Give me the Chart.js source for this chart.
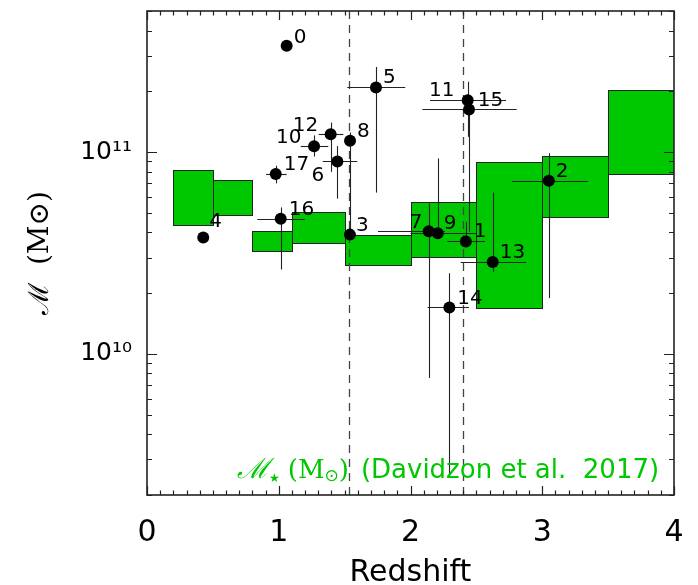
<!DOCTYPE html>
<html><head><meta charset="utf-8">
<script src="https://cdn.jsdelivr.net/npm/chart.js@4.4.0/dist/chart.umd.min.js"></script>
<style>html,body{margin:0;padding:0;background:#fff;}#wrap{width:698px;height:585px;}</style>
</head><body><div id="wrap"><canvas id="c" width="698" height="585"></canvas></div>
<script>
// ---- data ----
const pointIds   = ['0','1','2','3','4','5','6','7','8','9','10','11','12','13','14','15','16','17'];
const redshift   = [1.06, 2.42, 3.05, 1.54, 0.427, 1.738, 1.445, 2.138, 1.541, 2.207, 1.268, 2.444, 1.394, 2.624, 2.295, 2.434, 1.015, 0.977];
const mass       = [3.36e11, 3.61e10, 7.21e10, 3.90e10, 3.77e10, 2.09e11, 8.99e10, 4.05e10, 1.138e11, 3.96e10, 1.07e11, 1.627e11, 1.224e11, 2.85e10, 1.70e10, 1.808e11, 4.68e10, 7.78e10];
const redshiftLo = [1.02, 2.28, 2.77, null, null, 1.52, 1.334, 1.753, null, 2.0, 1.167, 2.09, 1.303, 2.381, 2.13, 2.148, 0.837, 0.904];
const redshiftHi = [1.10, 2.565, 3.345, null, null, 1.96, 1.596, 2.26, null, 2.5, 1.376, 2.806, 1.49, 2.877, 2.444, 2.725, 1.197, 1.06];
const massLo     = [null, 3.4e10, 1.89e10, null, null, 6.3e10, 5.88e10, 7.6e9, 3.9e10, null, 9.5e10, 4.03e10, 7.98e10, 2.55e10, 2.47e9, 1.19e11, 2.62e10, 7.0e10];
const massHi     = [null, 4.52e10, 9.86e10, null, null, 2.64e11, 1.07e11, 5.57e10, 1.25e11, 9.3e10, 1.21e11, null, 1.40e11, 6.3e10, 2.51e10, 2.23e11, 5.32e10, 8.56e10];

// Davidzon et al. 2017 stellar mass bins
const binZLo    = [0.2, 0.5, 0.8, 1.1, 1.5, 2.0, 2.5, 3.0, 3.5];
const binZHi    = [0.5, 0.8, 1.1, 1.5, 2.0, 2.5, 3.0, 3.5, 4.0];
const binMassLo = [4.35e10, 4.9e10, 3.22e10, 3.53e10, 2.75e10, 3.01e10, 1.69e10, 4.76e10, 7.78e10];
const binMassHi = [8.11e10, 7.24e10, 4.06e10, 5.02e10, 3.88e10, 5.64e10, 8.9e10, 9.55e10, 2.04e11];

const dashedZ = [1.536, 2.396];

const xMajorTicks = [0, 1, 2, 3, 4];
const xTickLabels = ['0', '1', '2', '3', '4'];
const yMajorTicks = [1e10, 1e11];
const yTickLabels = ['10\u00B9\u2070', '10\u00B9\u00B9'];

// label offsets (px) for point ids
const labelDx = [7, 8, 7, 6, 6, 7, -26, -19, 7, 6, -38, -40, -38, 7, 8, 10, 8, 8];
const labelDy = [-3, -4, -4, -4, -11, -4, 20, -3, -4, -4, -3, -13, -3, -4, -3, 6, -4, -4];

const noteZ = 0.683, noteMass = 2.43e9;
const GREEN = 'rgb(0,200,0)';

// minor tick values
const xTickValues = [];
for (let i = 0; i <= 40; i++) xTickValues.push(i / 10);
const yTickValues = [];
for (let e = 9; e <= 11; e++) for (let m = 1; m <= 9; m++) {
  const v = m * Math.pow(10, e);
  if (v >= 2e9 - 1 && v <= 5e11 + 1) yTickValues.push(v);
}

const drawPlugin = {
  id: 'drawPlugin',
  beforeDatasetsDraw(chart) {
    const {ctx, chartArea: a, scales: {x, y}} = chart;
    ctx.save();
    ctx.beginPath(); ctx.rect(a.left, a.top, a.right - a.left, a.bottom - a.top); ctx.clip();
    // boxes
    for (let i = 0; i < binZLo.length; i++) {
      const x0 = Math.round(x.getPixelForValue(binZLo[i])) + 0.5;
      const x1 = Math.round(x.getPixelForValue(binZHi[i])) + 0.5;
      const y0 = Math.round(y.getPixelForValue(binMassHi[i])) + 0.5;
      const y1 = Math.round(y.getPixelForValue(binMassLo[i])) + 0.5;
      ctx.fillStyle = GREEN;
      ctx.fillRect(x0, y0, x1 - x0, y1 - y0);
      ctx.strokeStyle = '#222'; ctx.lineWidth = 1;
      ctx.strokeRect(x0, y0, x1 - x0, y1 - y0);
    }
    // dashed lines
    ctx.strokeStyle = '#444'; ctx.lineWidth = 1.3; ctx.setLineDash([8, 6]);
    dashedZ.forEach(z => {
      const px = Math.round(x.getPixelForValue(z)) + 0.5;
      ctx.beginPath(); ctx.moveTo(px, a.top); ctx.lineTo(px, a.bottom); ctx.stroke();
    });
    ctx.setLineDash([]);
    // error bars
    ctx.strokeStyle = '#222'; ctx.lineWidth = 1.1;
    for (let i = 0; i < redshift.length; i++) {
      const px = x.getPixelForValue(redshift[i]);
      const py = y.getPixelForValue(mass[i]);
      if (redshiftLo[i] != null || redshiftHi[i] != null) {
        const xa = x.getPixelForValue(redshiftLo[i] ?? redshift[i]);
        const xb = x.getPixelForValue(redshiftHi[i] ?? redshift[i]);
        ctx.beginPath(); ctx.moveTo(xa, Math.round(py) + 0.5); ctx.lineTo(xb, Math.round(py) + 0.5); ctx.stroke();
      }
      if (massLo[i] != null || massHi[i] != null) {
        const ya = y.getPixelForValue(massLo[i] ?? mass[i]);
        const yb = y.getPixelForValue(massHi[i] ?? mass[i]);
        ctx.beginPath(); ctx.moveTo(Math.round(px) + 0.5, ya); ctx.lineTo(Math.round(px) + 0.5, yb); ctx.stroke();
      }
    }
    ctx.restore();
  },
  afterDatasetsDraw(chart) {
    const {ctx, chartArea: a, scales: {x, y}} = chart;
    ctx.save();
    // point labels
    ctx.fillStyle = '#000';
    ctx.font = '20px "DejaVu Sans"';
    ctx.textAlign = 'left'; ctx.textBaseline = 'alphabetic';
    for (let i = 0; i < redshift.length; i++) {
      const px = x.getPixelForValue(redshift[i]);
      const py = y.getPixelForValue(mass[i]);
      ctx.fillText(pointIds[i], px + labelDx[i], py + labelDy[i]);
    }
    // green annotation
    let nx = x.getPixelForValue(noteZ);
    const ny = y.getPixelForValue(noteMass);
    ctx.fillStyle = GREEN;
    ctx.font = 'italic 28px "DejaVu Serif"';
    ctx.fillText('\u2133', nx, ny);
    nx += ctx.measureText('\u2133').width;
    ctx.font = '12px "DejaVu Sans"';
    ctx.fillText('\u2605', nx, ny + 4);
    nx += ctx.measureText('\u2605').width + 8;
    ctx.font = '26px "DejaVu Serif"';
    ctx.fillText('(M', nx, ny);
    nx += ctx.measureText('(M').width;
    ctx.font = '17px "DejaVu Sans"';
    ctx.fillText('\u2299', nx, ny + 3);
    nx += ctx.measureText('\u2299').width;
    ctx.font = '26px "DejaVu Serif"';
    ctx.fillText(')', nx, ny);
    nx += ctx.measureText(')').width + 12;
    ctx.font = '26px "DejaVu Sans"';
    ctx.fillText('(Davidzon et al.  2017)', nx, ny);
    // frame
    ctx.strokeStyle = '#222'; ctx.lineWidth = 1.6;
    ctx.strokeRect(a.left, a.top, a.right - a.left, a.bottom - a.top);
    // tick marks
    ctx.lineWidth = 1.2;
    ctx.beginPath();
    xTickValues.forEach(v => {
      const px = Math.round(x.getPixelForValue(v)) + 0.5;
      const len = xMajorTicks.includes(v) ? 9 : 4.5;
      ctx.moveTo(px, a.bottom); ctx.lineTo(px, a.bottom - len);
      ctx.moveTo(px, a.top); ctx.lineTo(px, a.top + len);
    });
    yTickValues.forEach(v => {
      const py = Math.round(y.getPixelForValue(v)) + 0.5;
      const len = yMajorTicks.some(m => Math.abs(m - v) / m < 1e-6) ? 10 : 5;
      ctx.moveTo(a.left, py); ctx.lineTo(a.left + len, py);
      ctx.moveTo(a.right, py); ctx.lineTo(a.right - len, py);
    });
    ctx.stroke();
    ctx.restore();
  }
};

new Chart(document.getElementById('c').getContext('2d'), {
  type: 'scatter',
  data: {
    datasets: [{
      data: redshift.map((z, i) => ({x: z, y: mass[i]})),
      pointRadius: 6, pointHoverRadius: 6,
      backgroundColor: '#000', borderWidth: 0
    }]
  },
  options: {
    responsive: false, animation: false, events: [],
    layout: {padding: {top: 11, right: 24, left: 0, bottom: 0}},
    plugins: {legend: {display: false}, tooltip: {enabled: false}},
    scales: {
      x: {
        type: 'linear', min: 0, max: 4,
        grid: {display: false, drawTicks: false}, border: {display: false},
        afterBuildTicks: s => { s.ticks = xTickValues.map(v => ({value: v})); },
        afterFit: s => { s.height = 90; s.paddingLeft = 0; s.paddingRight = 0; },
        ticks: {
          autoSkip: false, maxRotation: 0, minRotation: 0, padding: 20, color: '#000',
          font: {family: 'DejaVu Sans', size: 30},
          callback: v => { const k = xMajorTicks.findIndex(m => Math.abs(m - v) < 1e-9); return k >= 0 ? xTickLabels[k] : ''; }
        },
        title: {display: true, text: 'Redshift', color: '#000', font: {family: 'DejaVu Sans', size: 30, lineHeight: 0.8}, padding: {top: 0, bottom: 0}}
      },
      y: {
        type: 'logarithmic', min: 2e9, max: 5e11,
        grid: {display: false, drawTicks: false}, border: {display: false},
        afterBuildTicks: s => { s.ticks = yTickValues.map(v => ({value: v})); },
        afterFit: s => { s.width = 147; s.paddingTop = 0; s.paddingBottom = 0; },
        ticks: {
          autoSkip: false, padding: 15, color: '#000',
          font: {family: 'DejaVu Sans', size: 25},
          callback: v => { const k = yMajorTicks.findIndex(m => Math.abs(m - v) / m < 1e-6); return k >= 0 ? yTickLabels[k] : ''; }
        },
        title: {display: true, text: '\u2133  (M\u2299)', color: '#000', font: {family: 'DejaVu Serif', size: 28}, padding: {top: 24}}
      }
    }
  },
  plugins: [drawPlugin]
});
</script></body></html>
